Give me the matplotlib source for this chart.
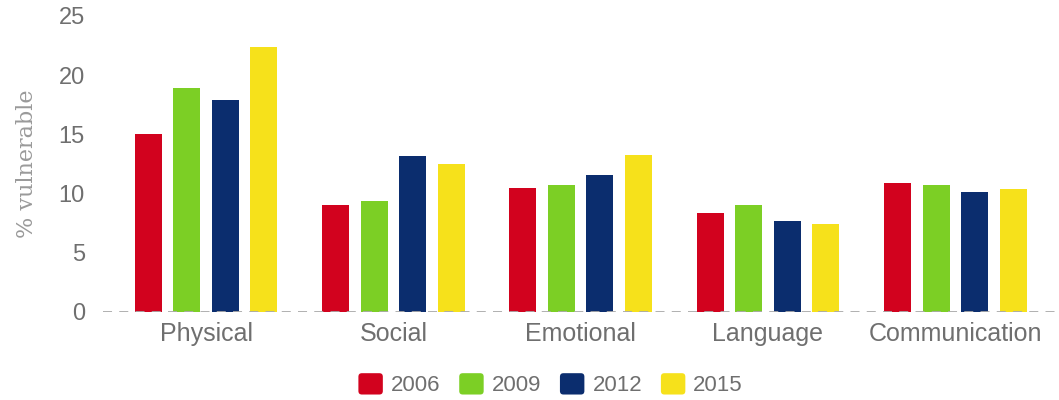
import matplotlib.pyplot as plt
import numpy as np
from matplotlib.patches import FancyBboxPatch, Patch
from matplotlib.legend_handler import HandlerPatch

plt.rcParams['figure.dpi'] = 100
plt.rcParams['font.family'] = ['Liberation Sans', 'DejaVu Sans']

# data
domains = ["Physical", "Social", "Emotional", "Language", "Communication"]
years = ["2006", "2009", "2012", "2015"]
v2006 = [15.0, 9.0, 10.5, 8.4, 10.9]
v2009 = [18.9, 9.4, 10.7, 9.0, 10.7]
v2012 = [17.9, 13.2, 11.6, 7.7, 10.1]
v2015 = [22.4, 12.5, 13.3, 7.4, 10.4]
colors = ["#d2021e", "#7ccf25", "#0b2d6e", "#f6e11b"]

fig = plt.figure(figsize=(10.59, 4.0))
ax = fig.add_axes([0.0973, 0.22, 0.8985, 0.74])

x = np.arange(len(domains))
step = 0.2055
width = 0.144
for i, (vals, yr) in enumerate(zip([v2006, v2009, v2012, v2015], years)):
    ax.bar(x + (i - 1.5) * step, vals, width, color=colors[i], label=yr, zorder=2)

ax.axhline(0, color="#aaaaaa", lw=1.3, ls=(0, (5, 4)), zorder=3)
ax.set_xlim(-0.55, 4.53)
ax.set_ylim(0, 25)
ax.set_yticks([0, 5, 10, 15, 20, 25])
ax.set_xticks(x)
ax.set_xticklabels(domains)
ax.tick_params(axis="y", length=0, labelsize=17, labelcolor="#6f6f6f", pad=13)
ax.tick_params(axis="x", length=0, labelsize=18, labelcolor="#6f6f6f", pad=7)
for s in ax.spines.values():
    s.set_visible(False)

ax.set_ylabel("% vulnerable", family="DejaVu Serif", fontsize=16, color="#9a9a9a")
ax.yaxis.set_label_coords(-0.068, 0.5)


# rounded legend squares
class RoundBox(HandlerPatch):
    def create_artists(self, legend, orig, xd, yd, w, h, fs, trans):
        p = FancyBboxPatch((-xd + 1.5, -yd + 1.5), w - 3, h - 3,
                           boxstyle="round,pad=1.5,rounding_size=2.5",
                           facecolor=orig.get_facecolor(), edgecolor="none",
                           transform=trans)
        return [p]


handles = [Patch(color=c) for c in colors]
leg = fig.legend(handles, years, loc="center", bbox_to_anchor=(0.520, 0.038), ncol=4,
                 frameon=False, fontsize=16, handlelength=1.1, handleheight=1.1,
                 handletextpad=0.36, columnspacing=0.85,
                 handler_map={Patch: RoundBox()})
for t in leg.get_texts():
    t.set_color("#6f6f6f")

plt.savefig("out.png")
